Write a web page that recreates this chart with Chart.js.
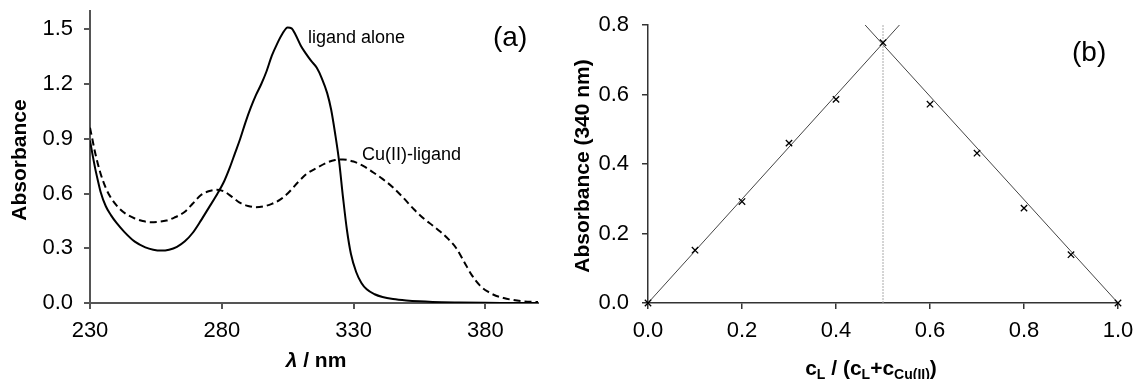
<!DOCTYPE html>
<html>
<head>
<meta charset="utf-8">
<script src="https://cdn.jsdelivr.net/npm/chart.js@4.4.1/dist/chart.umd.min.js"></script>
<style>
  html, body { margin: 0; padding: 0; background: #fff; }
  #wrap { position: relative; width: 1135px; height: 379px; overflow: hidden; }
  .panel { position: absolute; top: 0; height: 379px; }
  #panelA { left: 0; width: 560px; }
  #panelB { left: 560px; width: 575px; }
</style>
</head>
<body>
<div id="wrap">
  <div class="panel" id="panelA"><canvas id="specChart"></canvas></div>
  <div class="panel" id="panelB"><canvas id="jobChart"></canvas></div>
</div>
<script>
// ---- (a) UV-vis spectra ----
const ligandWavelengths = [230, 231, 232, 233, 234, 236, 238, 240, 243, 247, 251, 254, 257, 260, 263, 266, 269, 272, 275, 278, 281, 283, 285, 287, 289, 291, 293, 295, 297, 299, 301, 303, 305, 306.5, 308, 310, 312, 314, 316, 318, 320, 321.5, 323, 324.5, 326, 327.5, 329, 331, 333, 335, 338, 341, 345, 350, 355, 360, 370, 380, 390, 400];
const ligandAbsorbance = [0.89, 0.81, 0.735, 0.67, 0.61, 0.53, 0.48, 0.44, 0.39, 0.336, 0.305, 0.292, 0.287, 0.292, 0.308, 0.338, 0.385, 0.45, 0.52, 0.59, 0.67, 0.74, 0.82, 0.90, 0.99, 1.07, 1.14, 1.20, 1.27, 1.355, 1.42, 1.475, 1.51, 1.505, 1.47, 1.41, 1.365, 1.325, 1.29, 1.23, 1.15, 1.06, 0.93, 0.78, 0.58, 0.40, 0.27, 0.17, 0.11, 0.075, 0.048, 0.033, 0.022, 0.014, 0.009, 0.006, 0.003, 0.001, 0.0005, 0];

const complexWavelengths = [230, 231, 232, 234, 236, 238, 241, 244, 247, 250, 253, 256, 259, 262, 266, 269, 272, 275, 278, 281, 284, 287, 290, 293, 296, 299, 302, 305, 309, 312, 316, 320, 323, 326, 330, 334, 337, 341, 345, 349, 353, 357, 360, 363, 366, 369, 372, 375, 378, 381, 384, 387, 390, 394, 398, 400];
const complexAbsorbance = [0.96, 0.89, 0.82, 0.71, 0.63, 0.575, 0.52, 0.485, 0.463, 0.449, 0.443, 0.445, 0.452, 0.468, 0.50, 0.545, 0.59, 0.612, 0.62, 0.61, 0.58, 0.548, 0.532, 0.525, 0.53, 0.543, 0.565, 0.60, 0.663, 0.705, 0.74, 0.77, 0.783, 0.786, 0.775, 0.748, 0.72, 0.68, 0.633, 0.575, 0.512, 0.458, 0.425, 0.39, 0.35, 0.30, 0.225, 0.15, 0.095, 0.062, 0.04, 0.027, 0.018, 0.01, 0.006, 0.005];

const spectrumXTicks = [230, 280, 330, 380];
const spectrumYTicks = [0, 0.3, 0.6, 0.9, 1.2, 1.5];

// ---- (b) Job plot at 340 nm ----
const moleFraction = [0, 0.1, 0.2, 0.3, 0.4, 0.5, 0.6, 0.7, 0.8, 0.9, 1.0];
const jobAbsorbance = [0, 0.152, 0.292, 0.46, 0.586, 0.749, 0.572, 0.431, 0.273, 0.139, 0];
const risingFitX = [0, 0.535];
const risingFitY = [0, 0.8];
const fallingFitX = [0.462, 1];
const fallingFitY = [0.8, 0];
const stoichiometryX = [0.5, 0.5];
const stoichiometryY = [0, 0.8];

const jobXTicks = [0, 0.2, 0.4, 0.6, 0.8, 1.0];
const jobYTicks = [0, 0.2, 0.4, 0.6, 0.8];

const FONT = "'Liberation Sans', Arial, sans-serif";

function toPoints(xs, ys) {
  return xs.map((x, i) => ({ x: x, y: ys[i] }));
}

function fixedTicks(values) {
  return function (scale) { scale.ticks = values.map(v => ({ value: v })); };
}
function fixY(width) {
  return function (scale) { scale.width = width; scale.paddingTop = 0; scale.paddingBottom = 0; };
}
function fixX(height) {
  return function (scale) { scale.height = height; scale.paddingLeft = 0; scale.paddingRight = 0; };
}

// Draws a sequence of text runs with individual fonts and baseline shifts.
function drawRuns(ctx, runs, x, y, align) {
  let total = 0;
  runs.forEach(r => { ctx.font = r.font; r.w = ctx.measureText(r.text).width; total += r.w; });
  let cx = align === 'center' ? x - total / 2 : x;
  ctx.textAlign = 'left';
  ctx.textBaseline = 'alphabetic';
  runs.forEach(r => {
    ctx.font = r.font;
    ctx.fillText(r.text, cx, y + (r.dy || 0));
    cx += r.w;
  });
}

function axisStyle(color, width) {
  return {
    border: { display: true, color: color, width: width },
    grid: { display: true, drawOnChartArea: false, drawTicks: true, tickLength: 6, color: color, lineWidth: width }
  };
}

const textPluginA = {
  id: 'labelsA',
  afterDraw(chart) {
    const ctx = chart.ctx;
    ctx.save();
    ctx.fillStyle = '#000';
    ctx.textAlign = 'left';
    ctx.textBaseline = 'alphabetic';
    ctx.font = '18px ' + FONT;
    ctx.fillText('ligand alone', 308, 43);
    ctx.fillText('Cu(II)-ligand', 362, 160);
    ctx.font = '28px ' + FONT;
    ctx.fillText('(a)', 493, 46);
    // y axis title
    ctx.save();
    ctx.translate(20, 160);
    ctx.rotate(-Math.PI / 2);
    ctx.font = 'bold 21px ' + FONT;
    ctx.textAlign = 'center';
    ctx.textBaseline = 'middle';
    ctx.fillText('Absorbance', 0, 0);
    ctx.restore();
    // x axis title
    drawRuns(ctx, [
      { text: 'λ', font: 'italic bold 21px ' + FONT },
      { text: ' / nm', font: 'bold 21px ' + FONT }
    ], 316, 367, 'center');
    ctx.restore();
  }
};

const textPluginB = {
  id: 'labelsB',
  afterDraw(chart) {
    const ctx = chart.ctx;
    ctx.save();
    ctx.fillStyle = '#000';
    ctx.font = '28px ' + FONT;
    ctx.textAlign = 'left';
    ctx.textBaseline = 'alphabetic';
    ctx.fillText('(b)', 512, 61);
    ctx.save();
    ctx.translate(23, 166);
    ctx.rotate(-Math.PI / 2);
    ctx.font = 'bold 21px ' + FONT;
    ctx.textAlign = 'center';
    ctx.textBaseline = 'middle';
    ctx.fillText('Absorbance (340 nm)', 0, 0);
    ctx.restore();
    const big = 'bold 21px ' + FONT;
    const sub = 'bold 14px ' + FONT;
    drawRuns(ctx, [
      { text: 'c', font: big },
      { text: 'L', font: sub, dy: 4 },
      { text: ' / (c', font: big },
      { text: 'L', font: sub, dy: 4 },
      { text: '+c', font: big },
      { text: 'Cu(II)', font: sub, dy: 4 },
      { text: ')', font: big }
    ], 311, 375, 'center');
    ctx.restore();
  }
};

Chart.defaults.font.family = FONT;
Chart.defaults.color = '#000';

new Chart(document.getElementById('specChart'), {
  type: 'scatter',
  data: {
    datasets: [
      {
        label: 'ligand alone',
        data: toPoints(ligandWavelengths, ligandAbsorbance),
        showLine: true,
        borderColor: '#000',
        borderWidth: 2,
        pointRadius: 0,
        cubicInterpolationMode: 'monotone'
      },
      {
        label: 'Cu(II)-ligand',
        data: toPoints(complexWavelengths, complexAbsorbance),
        showLine: true,
        borderColor: '#000',
        borderWidth: 2,
        borderDash: [7, 4],
        pointRadius: 0,
        cubicInterpolationMode: 'monotone'
      }
    ]
  },
  options: {
    responsive: true,
    maintainAspectRatio: false,
    animation: false,
    devicePixelRatio: 1,
    layout: { padding: { left: 0, top: 11, right: 22, bottom: 0 } },
    plugins: { legend: { display: false }, tooltip: { enabled: false } },
    scales: {
      x: Object.assign({
        type: 'linear', min: 230, max: 400,
        afterBuildTicks: fixedTicks(spectrumXTicks),
        afterFit: fixX(76),
        ticks: { font: { size: 22 }, color: '#000', padding: 9, maxRotation: 0, callback: v => String(v) }
      }, axisStyle('#555', 2)),
      y: Object.assign({
        type: 'linear', min: 0, max: 1.6,
        afterBuildTicks: fixedTicks(spectrumYTicks),
        afterFit: fixY(90),
        ticks: { font: { size: 22 }, color: '#000', padding: 11, callback: v => v.toFixed(1) }
      }, axisStyle('#555', 2))
    }
  },
  plugins: [textPluginA]
});

new Chart(document.getElementById('jobChart'), {
  type: 'scatter',
  data: {
    datasets: [
      {
        label: 'measured',
        data: toPoints(moleFraction, jobAbsorbance),
        showLine: false,
        clip: false,
        pointStyle: 'crossRot',
        pointRadius: 4.5,
        borderColor: '#000',
        borderWidth: 1.3,
        backgroundColor: '#000'
      },
      {
        label: 'rising fit',
        data: toPoints(risingFitX, risingFitY),
        showLine: true,
        borderColor: '#444',
        borderWidth: 1,
        pointRadius: 0
      },
      {
        label: 'falling fit',
        data: toPoints(fallingFitX, fallingFitY),
        showLine: true,
        borderColor: '#444',
        borderWidth: 1,
        pointRadius: 0
      },
      {
        label: '1:1',
        data: toPoints(stoichiometryX, stoichiometryY),
        showLine: true,
        borderColor: '#aaa',
        borderWidth: 1,
        borderDash: [2, 1],
        pointRadius: 0
      }
    ]
  },
  options: {
    responsive: true,
    maintainAspectRatio: false,
    animation: false,
    devicePixelRatio: 1,
    layout: { padding: { left: 0, top: 25, right: 17, bottom: 0 } },
    plugins: { legend: { display: false }, tooltip: { enabled: false } },
    scales: {
      x: Object.assign({
        type: 'linear', min: 0, max: 1,
        afterBuildTicks: fixedTicks(jobXTicks),
        afterFit: fixX(76),
        ticks: { font: { size: 22 }, color: '#000', padding: 9, maxRotation: 0, callback: v => v.toFixed(1) }
      }, axisStyle('#333', 1.5)),
      y: Object.assign({
        type: 'linear', min: 0, max: 0.8,
        afterBuildTicks: fixedTicks(jobYTicks),
        afterFit: fixY(88),
        ticks: { font: { size: 22 }, color: '#000', padding: 13, callback: v => v.toFixed(1) }
      }, axisStyle('#333', 1.5))
    }
  },
  plugins: [textPluginB]
});
</script>
</body>
</html>
